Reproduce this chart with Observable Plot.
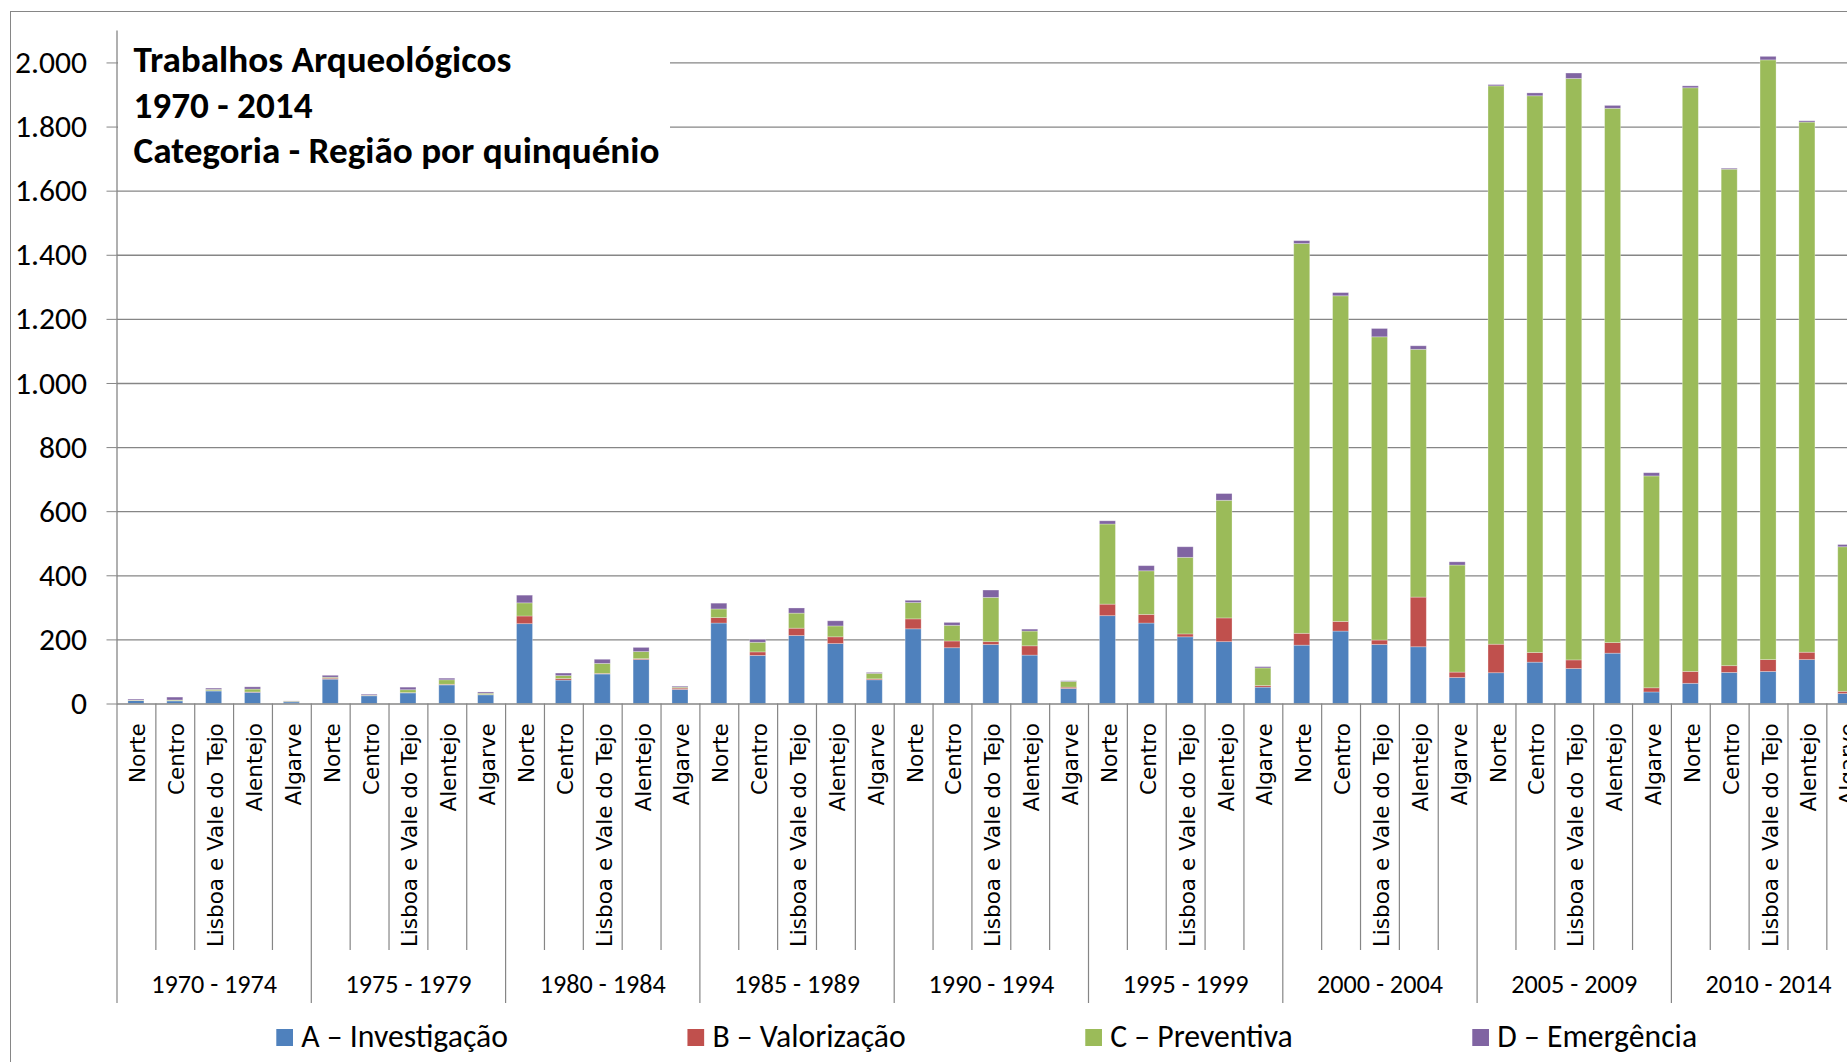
<!DOCTYPE html>
<html>
<head>
<meta charset="utf-8">
<script src="https://cdn.jsdelivr.net/npm/d3@7"></script>
<script src="https://cdn.jsdelivr.net/npm/@observablehq/plot@0.6"></script>
<style>
html, body { margin: 0; padding: 0; background: #fff; width: 1847px; height: 1062px; overflow: hidden; }
#wrap { position: relative; width: 1847px; height: 1062px; overflow: hidden; }
#frame { position: absolute; left: 9.5px; top: 10.5px; width: 2000px; height: 2000px; border: 1px solid #868686; box-sizing: border-box; }
#chart { position: absolute; left: 0; top: 0; width: 1900px; }
#overlay { position: absolute; left: 0; top: 0; }
</style>
</head>
<body>
<div id="wrap">
  <div id="frame"></div>
  <div id="chart"></div>
  <svg id="overlay" width="1847" height="1062"></svg>
</div>
<script>
// ---------- data ----------
const periods = ["1970 - 1974", "1975 - 1979", "1980 - 1984", "1985 - 1989", "1990 - 1994",
                 "1995 - 1999", "2000 - 2004", "2005 - 2009", "2010 - 2014"];
const regions = ["Norte", "Centro", "Lisboa e Vale do Tejo", "Alentejo", "Algarve"];
const categories = ["A – Investigação", "B – Valorização", "C – Preventiva", "D – Emergência"];
// values per period (in order), 5 regions each
const seriesA = [9, 8, 39, 35, 5,   76, 24, 33, 58, 27,   249, 73, 92, 137, 44,   251, 150, 212, 187, 74,
                 233, 174, 184, 151, 47,   274, 251, 208, 193, 51,   182, 226, 184, 177, 81,
                 96, 129, 109, 157, 36,   63, 97, 100, 137, 31];
const seriesB = [1, 1, 1, 1, 0,   3, 1, 1, 2, 1,   24, 5, 2, 3, 4,   17, 11, 23, 21, 3,
                 31, 21, 9, 29, 4,   36, 27, 9, 74, 5,   37, 30, 14, 155, 17,
                 89, 30, 27, 33, 13,   37, 21, 37, 23, 7];
const seriesC = [1, 2, 4, 9, 2,   3, 1, 9, 14, 4,   41, 9, 31, 22, 3,   27, 30, 47, 34, 17,
                 51, 49, 138, 46, 18,   250, 136, 239, 367, 55,   1216, 1016, 946, 773, 334,
                 1742, 1737, 1814, 1667, 661,   1821, 1549, 1871, 1654, 451];
const seriesD = [3, 9, 4, 7, 1,   6, 3, 8, 5, 4,   24, 8, 13, 13, 3,   18, 9, 16, 16, 3,
                 7, 9, 23, 6, 2,   10, 16, 33, 21, 4,   9, 10, 26, 11, 10,
                 4, 9, 17, 9, 10,   6, 3, 11, 4, 7];
const yTicks = [0, 200, 400, 600, 800, 1000, 1200, 1400, 1600, 1800, 2000];
const colors = ["#4F81BD", "#C0504D", "#9BBB59", "#8064A2"];
const titleLines = ["Trabalhos Arqueológicos", "1970 - 2014", "Categoria - Região por quinquénio"];

// ---------- table ----------
const series = [seriesA, seriesB, seriesC, seriesD];
const keys = [];
const rows = [];
periods.forEach((p, pi) => regions.forEach((r, ri) => {
  const key = p + "|" + r;
  keys.push(key);
  categories.forEach((c, ci) => rows.push({key, period: p, region: r, cat: c, value: series[ci][pi * 5 + ri]}));
}));

// ---------- layout ----------
const W = 1900, H = 1062;
const X0 = 116.5, STEP = 38.86;
const X1 = X0 + STEP * keys.length;
const Y0 = 703.5, YTOP = 30.4, YMAX = 2100;
const pxPerUnit = (Y0 - YTOP) / YMAX;
const catSepEnd = -(950 - Y0) / pxPerUnit;
const grpSepEnd = -(1003 - Y0) / pxPerUnit;
const GRID = "#868686";

const NARROW = "'Liberation Sans Narrow', 'Arial Narrow', Carlito, 'DejaVu Sans Condensed', Lato, sans-serif";
const WIDE = "'DejaVu Sans', Verdana, sans-serif";
const ctx = document.createElement("canvas").getContext("2d");
function measure(text, size, weight = "normal", family = NARROW) {
  ctx.font = `${weight} ${size}px ${family}`;
  return ctx.measureText(text).width;
}
function fit(text, target, weight = "normal", family = NARROW) {
  return 100 * target / measure(text, 100, weight, family);
}
const tickSize = fit("2.000", 72);
const groupSize = fit("2010 - 2014", 126);
const legendSize = fit("A – Investigação", 206.7);
const titleSize = fit(titleLines[0], 378, "bold");
const regionSize = fit("Lisboa e Vale do Tejo", 224, "normal", WIDE);

const fmt = d => d3.format(",")(d).replace(/,/g, ".");

const chart = Plot.plot({
  width: W,
  height: H,
  marginLeft: X0,
  marginRight: W - X1,
  marginTop: YTOP,
  marginBottom: H - Y0,
  style: {background: "transparent", maxWidth: "none", overflow: "visible", color: "black"},
  x: {type: "band", domain: keys, paddingInner: 0.588, paddingOuter: 0.294, align: 0.5, axis: null},
  y: {domain: [0, YMAX], axis: null},
  color: {domain: categories, range: colors},
  marks: [
    Plot.ruleY(yTicks.filter(d => d > 0), {stroke: GRID, strokeWidth: 1.3}),
    Plot.barY(rows, {x: "key", y: "value", fill: "cat", stroke: "white", strokeOpacity: 0.35, strokeWidth: 0.8}),
    Plot.ruleY([0], {stroke: GRID, strokeWidth: 1.6}),
    Plot.ruleX([keys[0]], {x: d => d, dx: -STEP / 2, stroke: GRID, strokeWidth: 1.3}),
    Plot.axisY(yTicks, {tickSize: 10, tickPadding: 20, stroke: GRID, fill: "black", tickFormat: fmt,
      fontSize: tickSize, fontFamily: NARROW, label: null}),
    Plot.ruleX(keys, {x: d => d, dx: -STEP / 2, y1: 0,
      y2: (d, i) => (i % 5 === 0 ? grpSepEnd : catSepEnd), stroke: GRID, strokeWidth: 1.2}),
    Plot.text(keys, {x: d => d, text: d => d.split("|")[1], frameAnchor: "bottom", rotate: -90,
      textAnchor: "end", dx: 9, dy: 19.2, fontSize: regionSize, fontFamily: WIDE, fill: "black"}),
    Plot.text(periods, {x: p => p + "|" + regions[2], text: p => p, frameAnchor: "bottom",
      dy: 992 - Y0, fontSize: groupSize, fontFamily: NARROW, fill: "black"})
  ]
});
document.getElementById("chart").appendChild(chart);

// ---------- title & legend overlay ----------
const ov = d3.select("#overlay");
ov.append("rect").attr("x", 118).attr("y", 33).attr("width", 552).attr("height", 149).attr("fill", "white");
const tBase = [71.5, 117.5, 163];
titleLines.forEach((t, i) => {
  ov.append("text").attr("x", 133.5).attr("y", tBase[i]).attr("font-family", NARROW)
    .attr("font-weight", "bold").attr("font-size", titleSize).attr("fill", "black").text(t);
});
let lx = 276.3;
categories.forEach((c, i) => {
  ov.append("rect").attr("x", lx).attr("y", 1029).attr("width", 16.7).attr("height", 17).attr("fill", colors[i]);
  const tx = lx + 25;
  ov.append("text").attr("x", tx).attr("y", 1046.5).attr("font-family", NARROW)
    .attr("font-size", legendSize).attr("fill", "black").text(c);
  lx = tx + measure(c, legendSize) + 179.5;
});
</script>
</body>
</html>
